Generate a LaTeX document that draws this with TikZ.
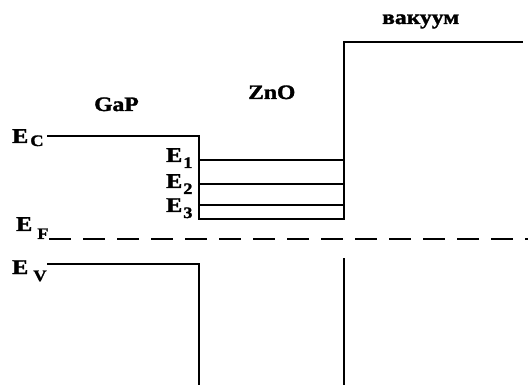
\documentclass[tikz,border=0pt]{standalone}
\usepackage{fontspec}
\setmainfont{Liberation Serif}[FakeStretch=1.15,FakeBold=1.5]
\begin{document}
\begin{tikzpicture}[x=1pt,y=-1pt,
  band/.style={line width=2pt,line cap=butt,line join=miter},
  lbl/.style={inner sep=0pt,anchor=base west,font=\fontsize{21}{23}\selectfont\bfseries},
  ttl/.style={inner sep=0pt,anchor=base west,font=\fontsize{20.5}{23}\selectfont\bfseries}]
\newcommand{\subs}[3]{\kern#1pt\raisebox{-#2pt}{\fontsize{16}{17}\selectfont #3}}
\useasboundingbox (0,0) rectangle (528,385);
% band lines
\draw[band] (47,136) -- (199,136) -- (199,219) -- (344,219) -- (344,42) -- (523,42);
\draw[band] (199,160) -- (344,160);
\draw[band] (199,184) -- (344,184);
\draw[band] (199,205) -- (344,205);
\draw[band,dash pattern=on 22pt off 12pt] (49,239) -- (528,239);
\draw[band] (47,264) -- (199,264) -- (199,385);
\draw[band] (344,258) -- (344,385);
% labels
\node[ttl] (gap) at (94,111) {GaP};
\node[ttl] (zno) at (248,99) {ZnO};
\node[ttl] (vac) at (382,24) {вакуум};
\node[lbl] (ec) at (12,143) {E\subs{2}{3}{C}};
\node[lbl] (ef) at (16,231) {E\subs{5}{8}{F}};
\node[lbl] (ev) at (12,274) {E\subs{5}{7}{V}};
\node[lbl] (e1) at (166,162) {E\subs{1}{6}{1}};
\node[lbl] (e2) at (166,188) {E\subs{1}{6}{2}};
\node[lbl] (e3) at (166,212) {E\subs{1}{6}{3}};
\end{tikzpicture}
\end{document}
